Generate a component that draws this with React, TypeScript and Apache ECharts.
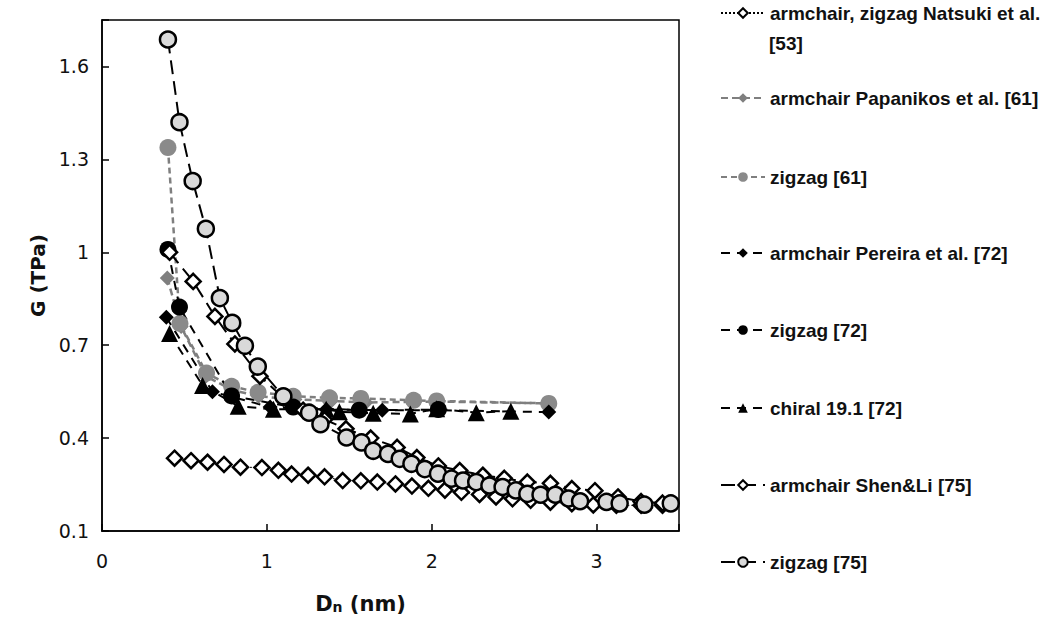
import React, { useEffect, useRef } from 'react';
import * as echarts from 'echarts';

// ---- data (Dn in nm, G in TPa) ----
const natsuki53: number[][] = [
  [0.44, 0.335], [0.54, 0.327], [0.64, 0.322], [0.74, 0.315], [0.84, 0.306],
  [0.97, 0.305], [1.07, 0.296], [1.15, 0.284], [1.25, 0.28], [1.35, 0.275],
  [1.46, 0.263], [1.57, 0.262], [1.67, 0.258], [1.78, 0.252], [1.88, 0.245],
  [1.98, 0.238], [2.08, 0.232], [2.18, 0.225], [2.29, 0.218], [2.39, 0.21],
  [2.49, 0.204], [2.6, 0.199], [2.72, 0.193], [2.85, 0.188], [2.98, 0.184],
  [3.12, 0.183], [3.27, 0.183], [3.4, 0.183],
];
const papanikosArm61: number[][] = [
  [0.396, 0.917], [0.48, 0.76], [0.63, 0.6], [0.79, 0.555], [0.95, 0.535],
  [1.17, 0.525], [1.39, 0.52], [1.6, 0.515], [2.03, 0.518], [2.71, 0.512],
];
const zigzag61: number[][] = [
  [0.4, 1.338], [0.473, 0.77], [0.634, 0.61], [0.786, 0.567], [0.947, 0.548],
  [1.16, 0.535], [1.38, 0.53], [1.57, 0.528], [1.89, 0.522], [2.03, 0.52], [2.71, 0.512],
];
const pereiraArm72: number[][] = [
  [0.39, 0.79], [0.67, 0.55], [1.02, 0.5], [1.36, 0.492], [1.7, 0.49],
  [2.04, 0.49], [2.71, 0.484],
];
const zigzag72: number[][] = [
  [0.4, 1.009], [0.47, 0.823], [0.786, 0.536], [1.16, 0.5], [1.56, 0.49], [2.04, 0.492],
];
const chiral72: number[][] = [
  [0.41, 0.738], [0.61, 0.57], [0.826, 0.503], [1.04, 0.493], [1.36, 0.493],
  [1.44, 0.485], [1.645, 0.48], [1.87, 0.478], [2.03, 0.495], [2.27, 0.482], [2.48, 0.487],
];
const shenLiArm75: number[][] = [
  [0.41, 1.0], [0.553, 0.906], [0.685, 0.793], [0.806, 0.704], [0.958, 0.6],
  [1.1, 0.53], [1.22, 0.49], [1.35, 0.46], [1.48, 0.43], [1.63, 0.4],
  [1.79, 0.37], [1.91, 0.337], [2.04, 0.31], [2.17, 0.295], [2.31, 0.28],
  [2.44, 0.27], [2.58, 0.258], [2.72, 0.254], [2.85, 0.237], [2.99, 0.23],
  [3.13, 0.21], [3.27, 0.195], [3.4, 0.19],
];
const zigzag75: number[][] = [
  [0.4, 1.687], [0.47, 1.42], [0.55, 1.23], [0.63, 1.076], [0.715, 0.852],
  [0.79, 0.772], [0.867, 0.698], [0.945, 0.631], [1.1, 0.535], [1.256, 0.482],
  [1.325, 0.445], [1.483, 0.402], [1.574, 0.386], [1.645, 0.359], [1.735, 0.349],
  [1.806, 0.333], [1.877, 0.317], [1.958, 0.3], [2.038, 0.285], [2.12, 0.269],
  [2.19, 0.263], [2.27, 0.258], [2.35, 0.247], [2.43, 0.242], [2.51, 0.231],
  [2.58, 0.22], [2.66, 0.217], [2.75, 0.217], [2.83, 0.205], [2.9, 0.196],
  [3.06, 0.194], [3.14, 0.189], [3.29, 0.185], [3.45, 0.189],
];

const seriesNames = [
  'armchair, zigzag Natsuki et al. [53]',
  'armchair Papanikos et al. [61]',
  'zigzag [61]',
  'armchair Pereira et al. [72]',
  'zigzag [72]',
  'chiral 19.1 [72]',
  'armchair Shen&Li [75]',
  'zigzag [75]',
];
const legendCenters = [13, 98, 177, 253, 330, 408, 485, 562];

const GRAY = '#7f7f7f';
const BLACK = '#000000';

export default function App() {
  const ref = useRef<HTMLDivElement>(null);
  useEffect(() => {
    const chart = echarts.init(ref.current!, null, { renderer: 'svg' });
    const labelFont = { fontFamily: 'DejaVu Sans', fontSize: 19, color: '#111' };
    const mk = (name: string, data: number[][], symbol: string, size: number, color: string,
      border: string | null, bw: number, lineColor: string, lw: number, dash: number[]) => ({
      name, type: 'line', data, symbol, symbolSize: size,
      itemStyle: { color, borderColor: border || color, borderWidth: border ? bw : 0, opacity: 1 },
      lineStyle: { color: lineColor, width: lw, type: dash },
      emphasis: { disabled: true },
    });
    const series = [
      mk(seriesNames[0], natsuki53, 'diamond', 15, '#ffffff', BLACK, 2.5, BLACK, 1, [2, 2]),
      mk(seriesNames[1], papanikosArm61, 'diamond', 15, GRAY, null, 0, GRAY, 2.5, [7, 4]),
      mk(seriesNames[2], zigzag61, 'circle', 17, '#8a8a8a', null, 0, GRAY, 2.5, [6, 4]),
      mk(seriesNames[3], pereiraArm72, 'diamond', 15, BLACK, null, 0, BLACK, 2, [9, 7]),
      mk(seriesNames[4], zigzag72, 'circle', 17, BLACK, null, 0, BLACK, 2, [9, 7]),
      mk(seriesNames[5], chiral72, 'triangle', 17, BLACK, null, 0, BLACK, 2, [9, 7]),
      mk(seriesNames[6], shenLiArm75, 'diamond', 15, '#ffffff', BLACK, 2.5, BLACK, 2, [14, 7]),
      mk(seriesNames[7], zigzag75, 'circle', 16, '#d9d9d9', BLACK, 2.5, BLACK, 2, [14, 7]),
    ];
    const legends = seriesNames.map((n, i) => ({
      data: [n],
      left: 720,
      top: legendCenters[i] - 10,
      padding: 0,
      orient: 'vertical',
      itemWidth: 44,
      itemHeight: 12,
      itemGap: 0,
      selectedMode: false,
      formatter: (name: string) => (i === 0 ? 'armchair, zigzag Natsuki et al.' : name),
      textStyle: { fontFamily: 'Liberation Sans', fontWeight: 'bold', fontSize: 19, lineHeight: 20, color: '#111' },
    }));
    chart.setOption({
      animation: false,
      backgroundColor: '#ffffff',
      grid: { left: 102, top: 20, width: 577, height: 516, show: true, borderColor: BLACK, borderWidth: 1.5, backgroundColor: 'transparent' },
      xAxis: {
        type: 'value', min: 0, max: 3.5, interval: 1,
        name: '{b|D}{s|n}{b| (nm)}', nameLocation: 'middle', nameGap: 57,
        nameTextStyle: {
          padding: [0, 60, 0, 0],
          rich: {
            b: { fontFamily: 'DejaVu Sans', fontWeight: 'bold', fontSize: 21, lineHeight: 26, color: '#111', verticalAlign: 'bottom' },
            s: { fontFamily: 'DejaVu Sans', fontWeight: 'bold', fontSize: 14, lineHeight: 19, color: '#111', verticalAlign: 'bottom' },
          },
        },
        axisLine: { lineStyle: { color: BLACK, width: 1.5 } },
        axisTick: { inside: true, length: 7, lineStyle: { color: BLACK, width: 1.5 } },
        splitLine: { show: false },
        axisLabel: { ...labelFont, margin: 20, formatter: (v: number) => (Math.abs(v - Math.round(v)) < 1e-6 ? String(Math.round(v)) : '') },
      },
      yAxis: {
        type: 'value', min: 0.1, max: 1.75, interval: 0.3,
        name: 'G (TPa)', nameLocation: 'middle', nameGap: 52, nameRotate: 90,
        nameTextStyle: { fontFamily: 'DejaVu Sans', fontWeight: 'bold', fontSize: 20, color: '#111' },
        axisLine: { lineStyle: { color: BLACK, width: 1.5 } },
        axisTick: { inside: true, length: 7, lineStyle: { color: BLACK, width: 1.5 } },
        splitLine: { show: false },
        axisLabel: {
          ...labelFont, margin: 13,
          formatter: (v: number) => {
            const k = (v - 0.1) / 0.3;
            return Math.abs(k - Math.round(k)) < 1e-6 ? String(Math.round(v * 10) / 10) : '';
          },
        },
      },
      legend: legends,
      graphic: [
        { type: 'text', left: 769, top: 34, style: { text: '[53]', font: 'bold 19px "Liberation Sans"', fill: '#111' } },
      ],
      series,
    });
    return () => chart.dispose();
  }, []);
  return <div ref={ref} style={{ position: 'fixed', left: 0, top: 0, width: 1048, height: 619, background: '#fff' }} />;
}
